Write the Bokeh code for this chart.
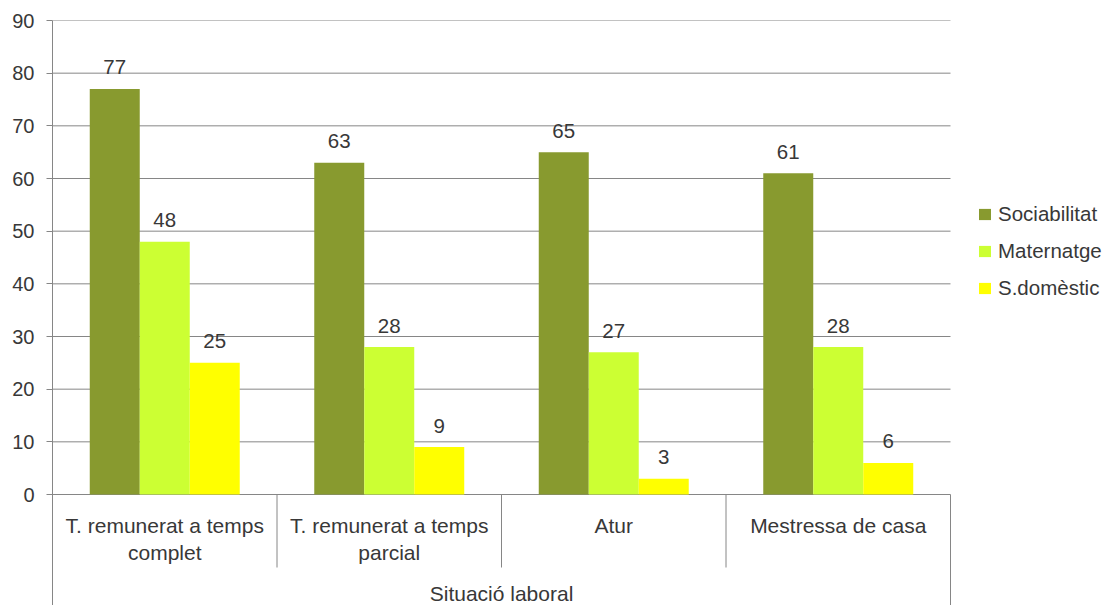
import numpy as np
from bokeh.plotting import figure
from bokeh.models import Range1d, FixedTicker, Legend, LegendItem, ColumnDataSource
from bokeh.core.properties import value
from bokeh.embed import file_html
from bokeh.resources import INLINE

categories = ["T. remunerat a temps\ncomplet", "T. remunerat a temps\nparcial", "Atur", "Mestressa de casa"]
axis_title = "Situació laboral"
series_names = ["Sociabilitat", "Maternatge", "S.domèstic"]
sociabilitat = [77, 63, 65, 61]
maternatge = [48, 28, 27, 28]
domestic = [25, 9, 3, 6]
y_ticks = [0, 10, 20, 30, 40, 50, 60, 70, 80, 90]

colors = ["#889A2F", "#CCFF33", "#FFFF00"]
FONT = "Liberation Sans"
TXT = "#383838"
LINE = "#868686"

# layout constants (pixels)
W, H = 1107, 605
left_px, right_px = 52, 950
top_px, zero_px, bottom_px = 20, 494, 605
ppu = (zero_px - top_px) / 90.0
y_min = -(bottom_px - zero_px) / ppu
n = len(categories)
x_max = n * (W - left_px) / (right_px - left_px)

p = figure(width=W, height=H, x_range=Range1d(0, x_max), y_range=Range1d(y_min, 90),
           output_backend="svg", toolbar_location=None, x_axis_location=None,
           min_border_left=left_px, min_border_top=top_px, min_border_bottom=0, min_border_right=0)
p.outline_line_color = None
p.xgrid.visible = False
p.ygrid.visible = False

ya = p.yaxis[0]
ya.ticker = FixedTicker(ticks=y_ticks, minor_ticks=[])
ya.axis_line_color = LINE
ya.major_tick_line_color = LINE
ya.major_tick_out = 6
ya.major_tick_in = 0
ya.minor_tick_line_color = None
ya.major_label_standoff = 12
ya.major_label_text_font = FONT
ya.major_label_text_font_size = "20px"
ya.major_label_text_color = TXT

# horizontal gridlines over the category span
p.segment(x0=[0] * len(y_ticks), y0=y_ticks, x1=[n] * len(y_ticks), y1=y_ticks,
          line_color=LINE, line_width=1)

bw = 0.2227
centers = np.arange(n) + 0.5
renderers = []
for k, (name, vals) in enumerate(zip(series_names, [sociabilitat, maternatge, domestic])):
    xs = centers + (k - 1) * bw
    src = ColumnDataSource(dict(x=xs, top=vals, lab=[str(v) for v in vals]))
    r = p.vbar(x="x", top="top", width=bw, bottom=0, source=src, fill_color=colors[k], line_color=None)
    renderers.append(r)
    p.text(x="x", y="top", text="lab", source=src, text_align="center", text_baseline="middle",
           y_offset=-21.5, text_font=value(FONT), text_font_size="20.5px", text_color=TXT)

# category labels (two lines)
line1 = [c.split("\n")[0] for c in categories]
line2 = [c.split("\n")[1] if "\n" in c else "" for c in categories]
for lines, off in ((line1, 31), (line2, 58)):
    csrc = ColumnDataSource(dict(x=centers, y=[0] * n, t=lines))
    p.text(x="x", y="y", text="t", source=csrc, text_align="center", text_baseline="middle",
           y_offset=off, text_font=value(FONT), text_font_size="21px", text_color=TXT)

# separators
sep_x = list(range(n + 1))
inner_end = -(567 - zero_px) / ppu
sep_y1 = [y_min if (i == 0 or i == n) else inner_end for i in sep_x]
p.segment(x0=sep_x, y0=[0] * (n + 1), x1=sep_x, y1=sep_y1, line_color=LINE, line_width=1)

# axis title
p.text(x=[n / 2], y=[y_min], text=[axis_title], text_align="center", text_baseline="middle",
       y_offset=-12, text_font=value(FONT), text_font_size="21px", text_color=TXT)

legend = Legend(items=[LegendItem(label=nm, renderers=[r]) for nm, r in zip(series_names, renderers)],
                location=(977 - left_px, 305))
legend.border_line_color = None
legend.background_fill_alpha = 0
legend.label_text_font = FONT
legend.label_text_font_size = "20.5px"
legend.label_text_color = TXT
legend.glyph_width = 15
legend.glyph_height = 14
legend.label_standoff = 6
legend.label_height = 22
legend.spacing = 13
legend.padding = 0
legend.margin = 0
p.add_layout(legend)

open("out.html", "w").write(file_html(p, INLINE))
